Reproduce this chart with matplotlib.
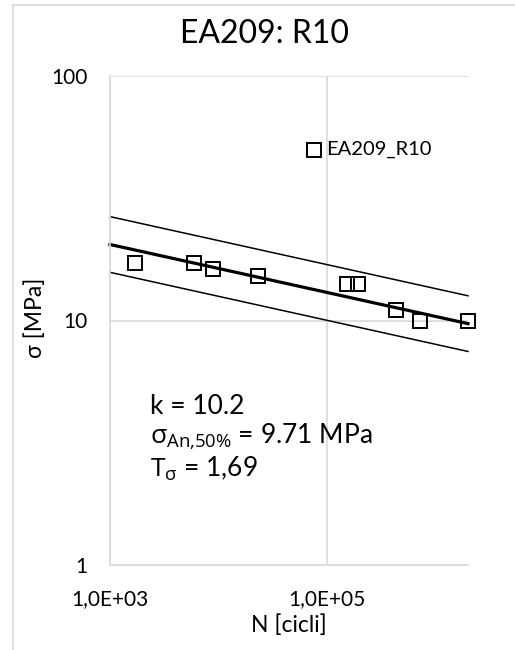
import matplotlib
matplotlib.use("Agg")
import matplotlib.pyplot as plt
from matplotlib.lines import Line2D

# ---- data ----
cycles = [1700, 5900, 9000, 23300, 152000, 194000, 433000, 720000, 2000000]
stress = [17.2, 17.2, 16.2, 15.2, 14.1, 14.1, 11.0, 10.0, 10.0]

outlier_n = [76000]
outlier_s = [50.0]
outlier_label = "EA209_R10"

# fitted curve (mean) and scatter band, endpoints at the axis limits
line_n = [1000, 2000000]
line_mean = [20.46, 9.71]
line_upper = [26.6, 12.62]
line_lower = [15.74, 7.47]

x_ticks = [1e3, 1e5]
x_ticklabels = ["1,0E+03", "1,0E+05"]
y_ticks = [1, 10, 100]
y_ticklabels = ["1", "10", "100"]

W, H = 515, 650
FONT = ["Lato", "DejaVu Sans"]
plt.rcParams["font.family"] = FONT
plt.rcParams["mathtext.fontset"] = "custom"
plt.rcParams["mathtext.rm"] = "Open Sans"

fig = plt.figure(figsize=(W / 100, H / 100), dpi=100)

# plot area in pixel coordinates
left, right, top, bottom = 110, 468, 76, 565
ax = fig.add_axes([left / W, 1 - bottom / H, (right - left) / W, (bottom - top) / H])

ax.set_xscale("log")
ax.set_yscale("log")
ax.set_xlim(1e3, 2e6)
ax.set_ylim(1, 100)

grid_c = "#d9d9d9"
ax.set_xticks(x_ticks)
ax.set_xticklabels(x_ticklabels)
ax.set_yticks(y_ticks)
ax.set_yticklabels(y_ticklabels)
ax.minorticks_off()
ax.tick_params(axis="x", length=0, pad=17, labelsize=15)
ax.tick_params(axis="y", length=0, pad=16, labelsize=15)
ax.grid(True, color=grid_c, linewidth=1.2)
ax.set_axisbelow(True)
for side in ["top", "right"]:
    ax.spines[side].set_visible(False)
for side in ["left", "bottom"]:
    ax.spines[side].set_color(grid_c)
    ax.spines[side].set_linewidth(1.2)

# scatter band and mean curve
ax.plot(line_n, line_upper, color="black", linewidth=1.1, clip_on=False)
ax.plot(line_n, line_lower, color="black", linewidth=1.1, clip_on=False)
ax.plot(line_n, line_mean, color="black", linewidth=2.3, clip_on=False)

# data points
ax.plot(cycles, stress, linestyle="none", marker="s", markersize=10.5,
        markerfacecolor="none", markeredgecolor="black", markeredgewidth=1.4,
        clip_on=False)
ax.plot(outlier_n, outlier_s, linestyle="none", marker="s", markersize=10.5,
        markerfacecolor="none", markeredgecolor="black", markeredgewidth=1.4)
ax.annotate(outlier_label, (outlier_n[0], outlier_s[0]), xytext=(9, 0),
            textcoords="offset points", ha="left", va="center", fontsize=14.5)

# fit results
fig.text(150 / W, 1 - 406 / H, "k = 10.2", fontsize=19, va="center", ha="left")
fig.text(150 / W, 1 - 437 / H, r"$\mathrm{σ_{An{,}50\%}}$ = 9.71 MPa",
         fontsize=19, va="center", ha="left")
fig.text(150 / W, 1 - 469 / H, r"$\mathrm{T_{σ}}$ = 1,69",
         fontsize=19, va="center", ha="left")

# titles and axis labels
fig.text(265 / W, 1 - 34 / H, "EA209: R10", fontsize=23, ha="center", va="center")
fig.text(289 / W, 1 - 625 / H, "N [cicli]", fontsize=16.5, ha="center", va="center")
fig.text(35 / W, 1 - 318 / H, "σ [MPa]", fontsize=16.5, ha="center", va="center",
         rotation=90)

# chart area frame (left and top edges visible)
fig.add_artist(Line2D([13 / W, 13 / W], [0, 1 - 5 / H], color=grid_c, linewidth=1.2))
fig.add_artist(Line2D([13 / W, 1], [1 - 5 / H, 1 - 5 / H], color=grid_c, linewidth=1.2))

fig.savefig("out.png", dpi=100)
